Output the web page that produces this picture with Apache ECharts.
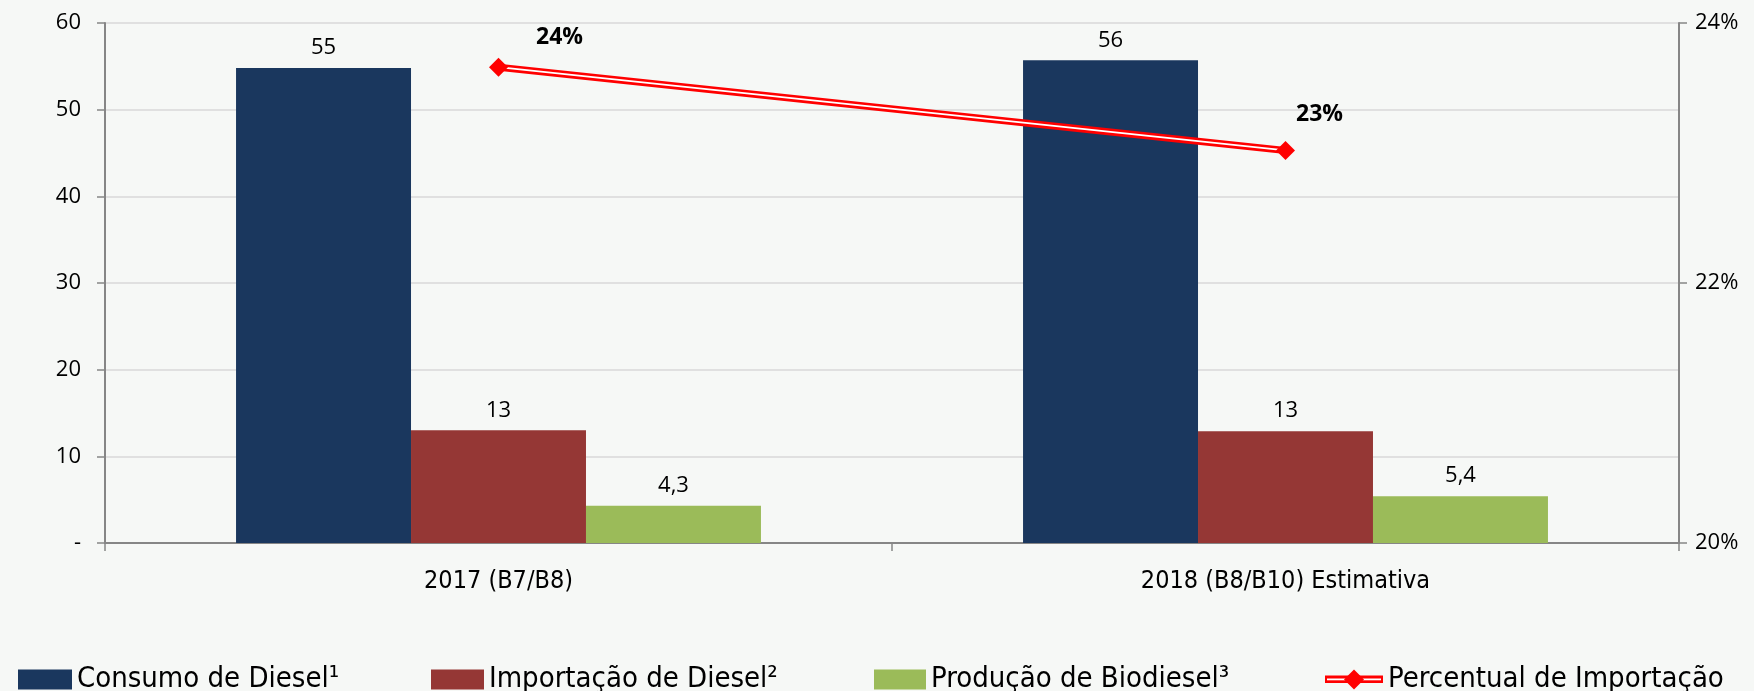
<!DOCTYPE html>
<html>
<head>
<meta charset="utf-8">
<script src="https://cdn.jsdelivr.net/npm/echarts@6/dist/echarts.min.js"></script>
<style>
html,body{margin:0;padding:0;background:#f6f8f6;}
#chart{width:1754px;height:691px;}
</style>
</head>
<body>
<div id="chart"></div>
<script>
const categories = ['2017 (B7/B8)', '2018 (B8/B10) Estimativa'];
const consumo = [54.8, 55.7];
const importacao = [13.0, 12.9];
const producao = [4.3, 5.4];
const percentual = [23.66, 23.02];
const leftTicks = {min: 0, max: 60, interval: 10};
const rightTicks = {min: 20, max: 24, interval: 2};
const seriesNames = ['Consumo de Diesel¹', 'Importação de Diesel²', 'Produção de Biodiesel³', 'Percentual de Importação'];

const numFont = "'Open Sans', 'Noto Sans', sans-serif";
const narrowFont = "'Liberation Sans Narrow', 'DejaVu Sans Condensed', sans-serif";

const barLabel = {
  show: true, position: 'top', distance: 9,
  color: '#000', fontFamily: numFont, fontSize: 22,
  formatter: p => p.value >= 10 ? String(Math.round(p.value)) : p.value.toFixed(1).replace('.', ',')
};

const svgIcon = "<svg xmlns='http://www.w3.org/2000/svg' width='58' height='22'><rect x='0' y='7' width='58' height='7.5' fill='red'/><rect x='2' y='10' width='54' height='1.8' fill='white'/><path d='M29 1 L39 11 L29 21 L19 11 Z' fill='red'/></svg>";
const lineIcon = 'image://data:image/svg+xml;charset=utf-8,' + encodeURIComponent(svgIcon);

const legendText = {fontFamily: narrowFont, fontSize: 29, color: '#000'};
function legend(name, left, icon, w) {
  return {
    data: [{name: name, icon: icon}], left: left, top: 660,
    itemWidth: w, itemHeight: icon === 'rect' ? 20 : 22,
    textStyle: legendText, selectedMode: false
  };
}

const lineLabelOffsets = [[61, -30], [34, -36]];

const chart = echarts.init(document.getElementById('chart'));
chart.setOption({
  backgroundColor: '#f6f8f6',
  animation: false,
  grid: {left: 105, right: 75, top: 23, bottom: 148},
  legend: [
    legend(seriesNames[0], 13, 'rect', 54),
    legend(seriesNames[1], 426, 'rect', 53),
    legend(seriesNames[2], 869, 'rect', 52),
    legend(seriesNames[3], 1320, lineIcon, 58)
  ],
  xAxis: {
    type: 'category', data: categories,
    axisLine: {lineStyle: {color: '#868686', width: 2}},
    axisTick: {show: true, length: 8, lineStyle: {color: '#868686', width: 1.5}},
    axisLabel: {fontFamily: narrowFont, fontSize: 25, color: '#000', margin: 26}
  },
  yAxis: [
    {
      type: 'value', min: leftTicks.min, max: leftTicks.max, interval: leftTicks.interval,
      axisLine: {show: true, lineStyle: {color: '#868686', width: 2}},
      axisTick: {show: true, length: 8, lineStyle: {color: '#868686', width: 1.5}},
      splitLine: {lineStyle: {color: '#d9d9d9', width: 1.5}},
      axisLabel: {fontFamily: numFont, fontSize: 22, color: '#000', margin: 24,
        formatter: v => v === 0 ? '-' : String(v)}
    },
    {
      type: 'value', min: rightTicks.min, max: rightTicks.max, interval: rightTicks.interval,
      position: 'right',
      axisLine: {show: true, lineStyle: {color: '#868686', width: 2}},
      axisTick: {show: true, length: 8, lineStyle: {color: '#868686', width: 1.5}},
      splitLine: {show: false},
      axisLabel: {fontFamily: numFont, fontSize: 22, color: '#000', margin: 16,
        formatter: v => v + '%'}
    }
  ],
  series: [
    {name: seriesNames[0], type: 'bar', data: consumo, barGap: '0%', barCategoryGap: '33.3%',
      itemStyle: {color: '#1a375e'}, label: barLabel},
    {name: seriesNames[1], type: 'bar', data: importacao,
      itemStyle: {color: '#953735'}, label: barLabel},
    {name: seriesNames[2], type: 'bar', data: producao,
      itemStyle: {color: '#9bbb59'}, label: barLabel},
    {name: 'redline', type: 'line', yAxisIndex: 1, data: percentual, symbol: 'none',
      lineStyle: {color: '#ff0000', width: 7}, silent: true, z: 3},
    {name: 'whiteline', type: 'line', yAxisIndex: 1, data: percentual, symbol: 'none',
      lineStyle: {color: '#ffffff', width: 1.8}, silent: true, z: 4},
    {name: seriesNames[3], type: 'line', yAxisIndex: 1, z: 5,
      data: percentual.map((v, i) => ({
        value: v,
        label: {offset: lineLabelOffsets[i]}
      })),
      symbol: 'diamond', symbolSize: 19,
      itemStyle: {color: '#ff0000'},
      lineStyle: {color: '#ff0000', width: 0, opacity: 0},
      label: {show: true, position: 'inside', color: '#000', fontFamily: numFont,
        fontSize: 23, fontWeight: 'bold',
        formatter: p => Math.round(p.value) + '%'}
    }
  ]
});
</script>
</body>
</html>
